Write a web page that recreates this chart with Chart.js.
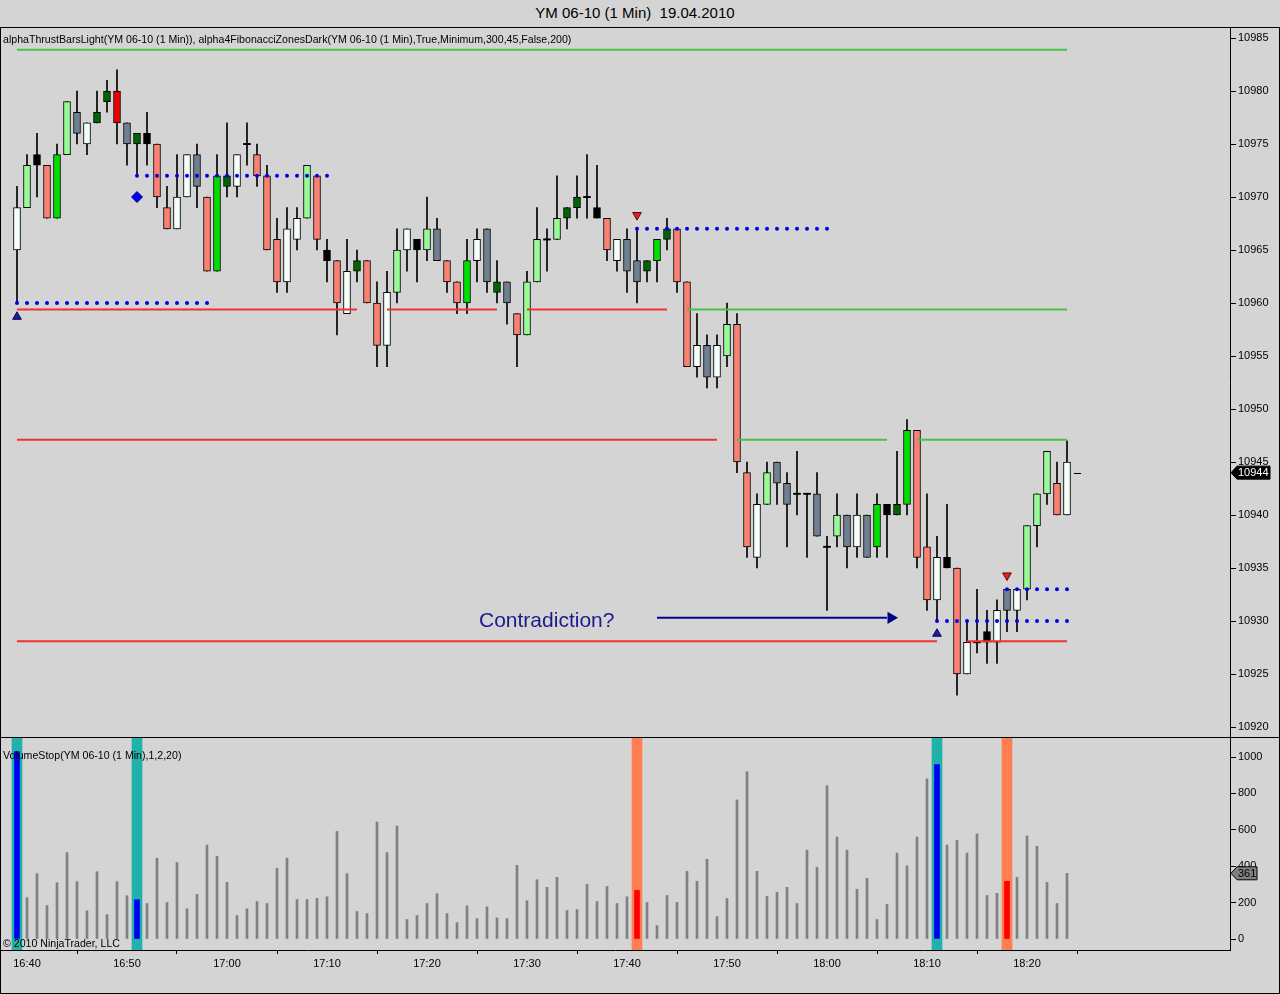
<!DOCTYPE html>
<html>
<head>
<meta charset="utf-8">
<script src="https://cdn.jsdelivr.net/npm/chart.js@4.4.1/dist/chart.umd.min.js"></script>
<style>
html,body{margin:0;padding:0;background:#d4d4d4;width:1280px;height:994px;overflow:hidden;font-family:Arial,"Liberation Sans",sans-serif;}
canvas{position:absolute;left:0;}
#pc{top:27px;}
#vc{top:737px;}
.hl{position:absolute;height:1px;background:#000;z-index:5;}
.vl{position:absolute;width:1px;background:#000;z-index:5;}
.lbl{position:absolute;font-size:10.6px;color:#000;white-space:nowrap;z-index:6;line-height:13px;}
#title{position:absolute;left:0;width:1270px;top:4px;text-align:center;font-size:15px;color:#000;line-height:18px;}
#note{position:absolute;left:479px;top:608px;font-size:21px;color:#1a1a8a;line-height:24px;z-index:6;}
</style>
</head>
<body>
<div id="title">YM 06-10 (1 Min)&nbsp;&nbsp;19.04.2010</div>
<canvas id="pc" width="1280" height="710" style="width:1280px;height:710px"></canvas>
<canvas id="vc" width="1280" height="256" style="width:1280px;height:256px"></canvas>
<div class="lbl" style="left:3px;top:33px;">alphaThrustBarsLight(YM 06-10 (1 Min)), alpha4FibonacciZonesDark(YM 06-10 (1 Min),True,Minimum,300,45,False,200)</div>
<div class="lbl" style="left:3px;top:749px;">VolumeStop(YM 06-10 (1 Min),1,2,20)</div>
<div class="lbl" style="left:3px;top:937px;">© 2010 NinjaTrader, LLC</div>
<div id="note">Contradiction?</div>
<div class="hl" style="left:0;top:27px;width:1280px;"></div>
<div class="hl" style="left:0;top:737px;width:1280px;"></div>
<div class="hl" style="left:0;top:993px;width:1280px;"></div>
<div class="vl" style="left:0;top:27px;height:967px;"></div>
<div class="vl" style="left:1279px;top:27px;height:967px;"></div>
<script>
// ---------- DATA ----------
const opens  = [10965,10969,10973,10973,10968,10974,10978,10975,10977,10979,10980,10977,10975,10976,10975,10969,10967,10970,10974,10970,
                10963,10971,10971,10975,10974,10972,10966,10962,10966,10968,10972,10965,10964,10959,10963,10964,10960,10956,10961,10965,
                10966,10965,10967,10964,10962,10960,10964,10967,10961,10962,10959,10957,10962,10966,10966,10968,10969,10970,10969,10968,
                10964,10966,10964,10963,10964,10966,10967,10962,10954,10956,10953,10955,10958,10944,10936,10941,10945,10943,10942,10942,
                10942,10937,10938,10940,10937,10940,10937,10941,10940,10941,10948,10937,10932,10936,10935,10925,10928,10929,10928,10933,
                10931,10933,10939,10942,10943,10940];
const highs  = [10971,10974,10976,10973,10975,10979,10980,10977,10980,10981,10982,10977,10976,10978,10975,10971,10974,10974,10975,10970,
                10974,10977,10974,10977,10975,10973,10968,10969,10969,10973,10972,10966,10964,10966,10965,10964,10962,10963,10967,10967,
                10966,10970,10968,10964,10962,10966,10967,10967,10964,10962,10959,10963,10969,10967,10972,10969,10972,10974,10973,10968,
                10966,10967,10967,10964,10966,10968,10967,10962,10959,10957,10957,10960,10959,10945,10942,10945,10945,10944,10946,10942,
                10944,10938,10942,10940,10942,10940,10942,10941,10946,10949,10948,10942,10938,10941,10935,10930,10933,10931,10932,10933,
                10933,10939,10942,10946,10945,10947];
const lows   = [10960,10969,10970,10968,10968,10974,10975,10974,10977,10978,10975,10973,10972,10973,10969,10967,10967,10970,10969,10963,
                10963,10970,10970,10973,10971,10965,10961,10961,10965,10968,10965,10962,10957,10959,10962,10960,10954,10954,10960,10963,
                10962,10964,10964,10961,10959,10959,10962,10961,10960,10958,10954,10957,10962,10963,10966,10967,10968,10968,10968,10964,
                10963,10961,10960,10962,10962,10965,10961,10954,10953,10952,10952,10954,10944,10936,10935,10941,10941,10937,10940,10936,
                10938,10931,10937,10935,10936,10936,10936,10936,10940,10940,10935,10931,10930,10935,10923,10925,10927,10926,10926,10929,
                10929,10932,10937,10941,10940,10940];
const closes = [10969,10973,10974,10968,10974,10979,10976,10977,10978,10980,10977,10975,10976,10975,10970,10967,10970,10974,10971,10963,
                10972,10972,10974,10975,10972,10965,10962,10967,10968,10973,10966,10964,10960,10963,10964,10960,10956,10961,10965,10967,
                10965,10967,10964,10962,10960,10964,10966,10962,10962,10960,10957,10962,10966,10966,10968,10969,10970,10970,10968,10965,
                10966,10963,10962,10964,10966,10967,10962,10954,10956,10953,10956,10958,10945,10937,10941,10944,10943,10941,10942,10942,
                10938,10937,10940,10937,10940,10936,10941,10940,10941,10948,10936,10932,10936,10935,10925,10928,10928,10928,10931,10931,
                10933,10939,10942,10946,10940,10945];
// thrust-bar colour class per bar
const barKinds = ['W','LG','K','S','G','LG','Gy','W','DG','DG','R','Gy','DG','K','S','S','W','W','Gy','S',
                  'G','DG','W','D','S','S','S','W','W','LG','S','K','S','W','DG','S','S','W','LG','W',
                  'K','LG','Gy','S','S','G','W','Gy','DG','Gy','S','LG','LG','D','LG','DG','DG','D','K','S',
                  'W','Gy','Gy','DG','G','DG','S','S','W','Gy','W','LG','S','S','W','LG','Gy','Gy','D','D',
                  'Gy','D','LG','Gy','W','Gy','G','K','DG','G','S','S','W','K','S','W','D','K','W','Gy',
                  'W','LG','LG','LG','S','W'];
const volumes = [1030,227,359,184,309,475,315,155,370,134,315,238,216,195,444,201,420,166,245,516,
                 455,311,129,166,206,195,389,444,217,217,223,232,591,359,151,140,643,475,621,107,
                 129,195,249,140,90,182,112,177,116,112,405,210,326,284,339,157,162,300,206,289,
                 195,232,267,201,74,239,201,372,317,438,123,223,764,919,372,234,256,284,195,488,
                 394,842,560,488,273,333,107,190,472,402,560,880,958,516,543,472,577,239,251,317,
                 339,566,510,311,195,361];
const blueSignalBars = [0,12,92];
const redSignalBars  = [62,99];
const priceTicks  = [10920,10925,10930,10935,10940,10945,10950,10955,10960,10965,10970,10975,10980,10985];
const volumeTicks = [0,200,400,600,800,1000];
const timeTickBars   = [1,11,21,31,41,51,61,71,81,91,101];
const timeTickLabels = ['16:40','16:50','17:00','17:10','17:20','17:30','17:40','17:50','18:00','18:10','18:20'];
// [fromBar, toBar, price]
const blueDotLevels = [[0,19,10960],[12,31,10972],[62,81,10967],[92,105,10930],[99,105,10933]];
const redLevels   = [[0,34,10959.4],[37,48,10959.4],[51,65,10959.4],[0,70,10947.1],[0,92,10928.1],[95,105,10928.1]];
const greenLevels = [[0,105,10983.9],[67,105,10959.4],[72,87,10947.1],[90,105,10947.1]];
// [bar, price]
const upMarkers      = [[0,10958.7],[92,10928.8]];
const downMarkers    = [[62,10968.3],[99,10934.3]];
const diamondMarkers = [[12,10970.0]];
const arrowFrom = [64,10930.3];
const arrowTo   = [87,10930.3];
const arrowHead = [87.4,10930.3];
const lastPrice  = 10944;
const lastVolume = 361;

// ---------- STYLE ----------
const kindColor = {W:'#f5fffa',LG:'#98fb98',G:'#00e000',DG:'#006400',S:'#fa8072',R:'#ee0000',Gy:'#708090',K:'#000000',D:'#000000'};
const FONT = {family:'Arial, "Liberation Sans", sans-serif', size:11};
const X_MIN = -1.7, X_MAX = 121.3;
const P_MIN = 10919.06, P_MAX = 10986.04;
const V_MIN = -60.4, V_MAX = 1109.9;

const tagPlugin = {
  id:'tag',
  afterDraw(chart, args, o){
    if (o.value === undefined) return;
    const ctx = chart.ctx, y = chart.scales.y.getPixelForValue(o.value);
    const r = chart.chartArea.right;
    ctx.save();
    ctx.beginPath();
    ctx.moveTo(r+1, y);
    ctx.lineTo(r+7, y-o.h/2);
    ctx.lineTo(r+7+o.w, y-o.h/2);
    ctx.lineTo(r+7+o.w, y+o.h/2);
    ctx.lineTo(r+7, y+o.h/2);
    ctx.closePath();
    ctx.fillStyle = o.fill; ctx.fill();
    ctx.strokeStyle = '#000'; ctx.lineWidth = 1; ctx.stroke();
    ctx.fillStyle = o.text;
    ctx.font = '11px Arial, "Liberation Sans", sans-serif';
    ctx.textBaseline = 'middle'; ctx.textAlign = 'left';
    ctx.fillText(String(o.value), r+8, y+0.5);
    if (o.dash) {
      const xs = chart.scales.x;
      ctx.beginPath();
      ctx.moveTo(xs.getPixelForValue(o.dash[0]), Math.round(y)+0.5);
      ctx.lineTo(xs.getPixelForValue(o.dash[1]), Math.round(y)+0.5);
      ctx.strokeStyle = '#000'; ctx.stroke();
    }
    ctx.restore();
  }
};

// ---------- PRICE CHART ----------
const idx = opens.map((_, i) => i);
const wickData = idx.map(i => ({x:i, y:[lows[i], highs[i]]}));
const bodyData = idx.map(i => {
  const lo = Math.min(opens[i], closes[i]), hi = Math.max(opens[i], closes[i]);
  return {x:i, y: lo === hi ? [lo-0.06, hi+0.06] : [lo, hi]};
});
const priceDatasets = [
  {type:'bar', data:wickData, backgroundColor:'#000', barThickness:1, grouped:false, order:5},
  {type:'bar', data:bodyData, backgroundColor:idx.map(i=>kindColor[barKinds[i]]), borderColor:'#000',
   borderWidth:idx.map(i=>barKinds[i]==='D'?0:1), borderSkipped:false, barThickness:7, grouped:false, order:4}
];
function levelSet(levels, color){
  levels.forEach(([a,b,p]) => priceDatasets.push({type:'line', data:[{x:a,y:p},{x:b,y:p}], borderColor:color,
    borderWidth:2, pointRadius:0, fill:false, order:3}));
}
levelSet(redLevels, '#f03232');
levelSet(greenLevels, '#46c346');
blueDotLevels.forEach(([a,b,p]) => {
  const pts = []; for (let i=a;i<=b;i++) pts.push({x:i,y:p});
  priceDatasets.push({type:'line', data:pts, showLine:false, pointRadius:2, pointBackgroundColor:'#0000e6',
    pointBorderWidth:0, order:2});
});
priceDatasets.push({type:'line', data:upMarkers.map(([x,y])=>({x,y})), showLine:false, pointStyle:'triangle',
  pointRadius:5, pointBackgroundColor:'#1c1ca8', pointBorderColor:'#0a0a50', pointBorderWidth:1, order:1});
priceDatasets.push({type:'line', data:downMarkers.map(([x,y])=>({x,y})), showLine:false, pointStyle:'triangle',
  pointRotation:180, pointRadius:5, pointBackgroundColor:'#e82020', pointBorderColor:'#600000', pointBorderWidth:1, order:1});
priceDatasets.push({type:'line', data:diamondMarkers.map(([x,y])=>({x,y})), showLine:false, pointStyle:'rectRot',
  pointRadius:5.5, pointBackgroundColor:'#0000f0', pointBorderColor:'#00008b', pointBorderWidth:1, order:1});
priceDatasets.push({type:'line', data:[{x:arrowFrom[0],y:arrowFrom[1]},{x:arrowTo[0],y:arrowTo[1]}],
  borderColor:'#00008b', borderWidth:2, pointRadius:0, order:1});
priceDatasets.push({type:'line', data:[{x:arrowHead[0],y:arrowHead[1]}], showLine:false, pointStyle:'triangle',
  pointRotation:90, pointRadius:7, pointBackgroundColor:'#00008b', pointBorderWidth:0, order:1});

new Chart(document.getElementById('pc'), {
  type:'bar',
  data:{datasets:priceDatasets},
  options:{
    responsive:false, animation:false, events:[],
    layout:{padding:0, autoPadding:false},
    plugins:{legend:{display:false}, tooltip:{enabled:false},
      tag:{value:lastPrice, fill:'#000', text:'#fff', w:33, h:13, dash:[105.7,106.4]}},
    scales:{
      x:{type:'linear', min:X_MIN, max:X_MAX, display:false, offset:false},
      y:{type:'linear', position:'right', min:P_MIN, max:P_MAX,
         afterBuildTicks:s=>{s.ticks = priceTicks.map(v=>({value:v}));},
         afterFit:s=>{s.width=50; s.paddingTop=0; s.paddingBottom=0;},
         ticks:{color:'#000', font:FONT, padding:2, callback:v=>String(v)},
         grid:{drawOnChartArea:false, drawTicks:true, tickLength:6, color:'#000'},
         border:{display:true, color:'#000', width:1}}
    }
  },
  plugins:[tagPlugin]
});

// ---------- VOLUME CHART ----------
const signalBars = blueSignalBars.concat(redSignalBars);
const volDatasets = [
  {type:'bar', data:signalBars.map(i=>({x:i, y:[V_MIN, V_MAX]})),
   backgroundColor:signalBars.map(i=>blueSignalBars.includes(i)?'#20b2aa':'#ff7f50'),
   barThickness:10, grouped:false, order:3},
  {type:'bar', data:idx.filter(i=>!signalBars.includes(i)).map(i=>({x:i, y:volumes[i]})),
   backgroundColor:'#808080', barThickness:2, grouped:false, order:2},
  {type:'bar', data:signalBars.map(i=>({x:i, y:volumes[i]})),
   backgroundColor:signalBars.map(i=>blueSignalBars.includes(i)?'#0000f0':'#ff0000'),
   barThickness:5, grouped:false, order:1}
];
new Chart(document.getElementById('vc'), {
  type:'bar',
  data:{datasets:volDatasets},
  options:{
    responsive:false, animation:false, events:[],
    layout:{padding:0, autoPadding:false},
    plugins:{legend:{display:false}, tooltip:{enabled:false},
      tag:{value:lastVolume, fill:'#808080', text:'#000', w:20, h:13}},
    scales:{
      x:{type:'linear', min:X_MIN, max:X_MAX, offset:false, position:'bottom',
         afterBuildTicks:s=>{s.ticks = timeTickBars.map(v=>({value:v}));},
         afterFit:s=>{s.height=43; s.paddingLeft=0; s.paddingRight=0;},
         ticks:{color:'#000', font:FONT, padding:3, autoSkip:false, maxRotation:0,
                callback:v=>timeTickLabels[timeTickBars.indexOf(v)]},
         grid:{drawOnChartArea:false, drawTicks:true, tickLength:4, color:'#000'},
         border:{display:true, color:'#000', width:1}},
      y:{type:'linear', position:'right', min:V_MIN, max:V_MAX,
         afterBuildTicks:s=>{s.ticks = volumeTicks.map(v=>({value:v}));},
         afterFit:s=>{s.width=50; s.paddingTop=0; s.paddingBottom=0;},
         ticks:{color:'#000', font:FONT, padding:2, callback:v=>String(v)},
         grid:{drawOnChartArea:false, drawTicks:true, tickLength:6, color:'#000'},
         border:{display:true, color:'#000', width:1}}
    }
  },
  plugins:[tagPlugin]
});
</script>
</body>
</html>
